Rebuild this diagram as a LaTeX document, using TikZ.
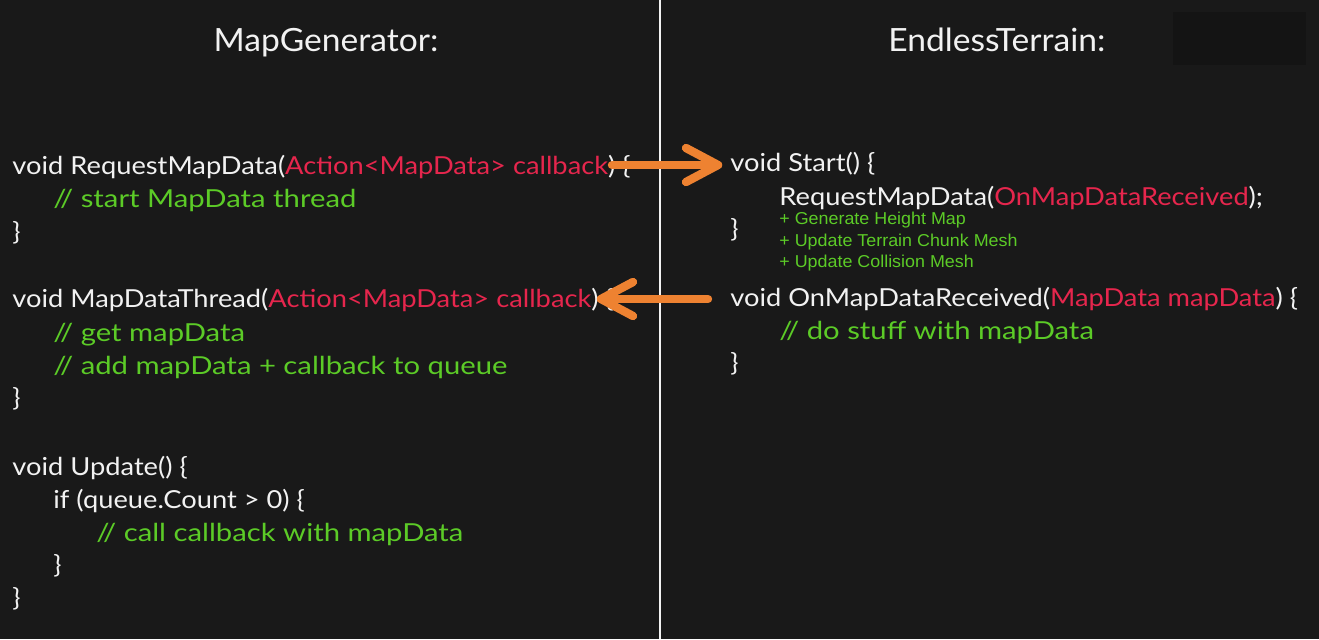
\documentclass[tikz,border=0pt]{standalone}
\usepackage{fontspec}
\setmainfont{Lato}
\newfontfamily\codefont[FakeStretch=1.1]{Lato}
\newfontfamily\commentfont[FakeStretch=1.18]{Lato}
\newfontfamily\titlefont[FakeStretch=1.05]{Lato}
\newfontfamily\smallfont[FakeStretch=1.04]{Liberation Sans}
\definecolor{bgcol}{HTML}{191919}
\definecolor{boxcol}{HTML}{141414}
\definecolor{codewhite}{HTML}{F2F2F2}
\definecolor{codered}{HTML}{E6264D}
\definecolor{codegreen}{HTML}{5CCB27}
\definecolor{arrowcol}{HTML}{EE8231}
\tikzset{
  codeline/.style={anchor=base west, inner sep=0pt, text=codewhite, font=\codefont\fontsize{12.4}{14}\selectfont},
  commentline/.style={anchor=base west, inner sep=0pt, text=codegreen, font=\commentfont\fontsize{12.4}{14}\selectfont},
  titletext/.style={anchor=base, inner sep=0pt, text=codewhite, font=\titlefont\fontsize{16}{18}\selectfont},
  notetext/.style={anchor=base west, inner sep=0pt, text=codegreen, font=\smallfont\fontsize{8.6}{10}\selectfont},
  callarrow/.style={draw=arrowcol, line width=4.2pt, line cap=round, line join=round},
}
\newcommand{\rd}[1]{{\color{codered}#1}}
\begin{document}
\begin{tikzpicture}[x=0.5pt,y=-0.5pt]
\fill[bgcol] (0,0) rectangle (1319,639);
\useasboundingbox (0,0) rectangle (1319,639);
\fill[boxcol] (1173,12) rectangle (1306,65);
\draw[codewhite, line width=1.3pt] (660,0) -- (660,639);

% titles
\node[titletext] (t1) at (326,51) {MapGenerator:};
\node[titletext] (t2) at (997,51) {EndlessTerrain:};

% left column
\node[codeline] (l1) at (12,174) {void RequestMapData(\rd{Action<MapData> callback}) \{};
\node[commentline] (l2) at (53,207) {// start MapData thread};
\node[codeline] (l3) at (12,240) {\}};
\node[codeline] (l4) at (12,307) {void MapDataThread(\rd{Action<MapData> callback}) \{};
\node[commentline] (l5) at (53,341) {// get mapData};
\node[commentline] (l6) at (53,374) {// add mapData + callback to queue};
\node[codeline] (l7) at (12,406) {\}};
\node[codeline] (l8) at (12,475) {void Update() \{};
\node[codeline] (l9) at (53,508) {if (queue.Count > 0) \{};
\node[commentline] (l10) at (96,541) {// call callback with mapData};
\node[codeline] (l11) at (53,573) {\}};
\node[codeline] (l12) at (12,606) {\}};

% right column
\node[codeline] (r1) at (730,171) {void Start() \{};
\node[codeline] (r2) at (779,205) {RequestMapData(\rd{OnMapDataReceived});};
\node[codeline] (r3) at (730,237) {\}};
\node[notetext] (n1) at (779,224) {+ Generate Height Map};
\node[notetext] (n2) at (779,246) {+ Update Terrain Chunk Mesh};
\node[notetext] (n3) at (779,267) {+ Update Collision Mesh};
\node[codeline] (r4) at (730,306) {void OnMapDataReceived(\rd{MapData mapData}) \{};
\node[commentline] (r5) at (779,339) {// do stuff with mapData};
\node[codeline] (r6) at (730,371) {\}};

% arrows
\coordinate (a1s) at (612,165);
\coordinate (a1e) at (718,165);
\coordinate (a2s) at (708,299);
\coordinate (a2e) at (601,299);
\draw[callarrow] (a1s) -- (a1e);
\draw[callarrow] (a1e) ++(-32,-17) -- (a1e) -- ++(-32,17);
\draw[callarrow] (a2s) -- (a2e);
\draw[callarrow] (a2e) ++(32,-17) -- (a2e) -- ++(32,17);
\end{tikzpicture}
\end{document}
